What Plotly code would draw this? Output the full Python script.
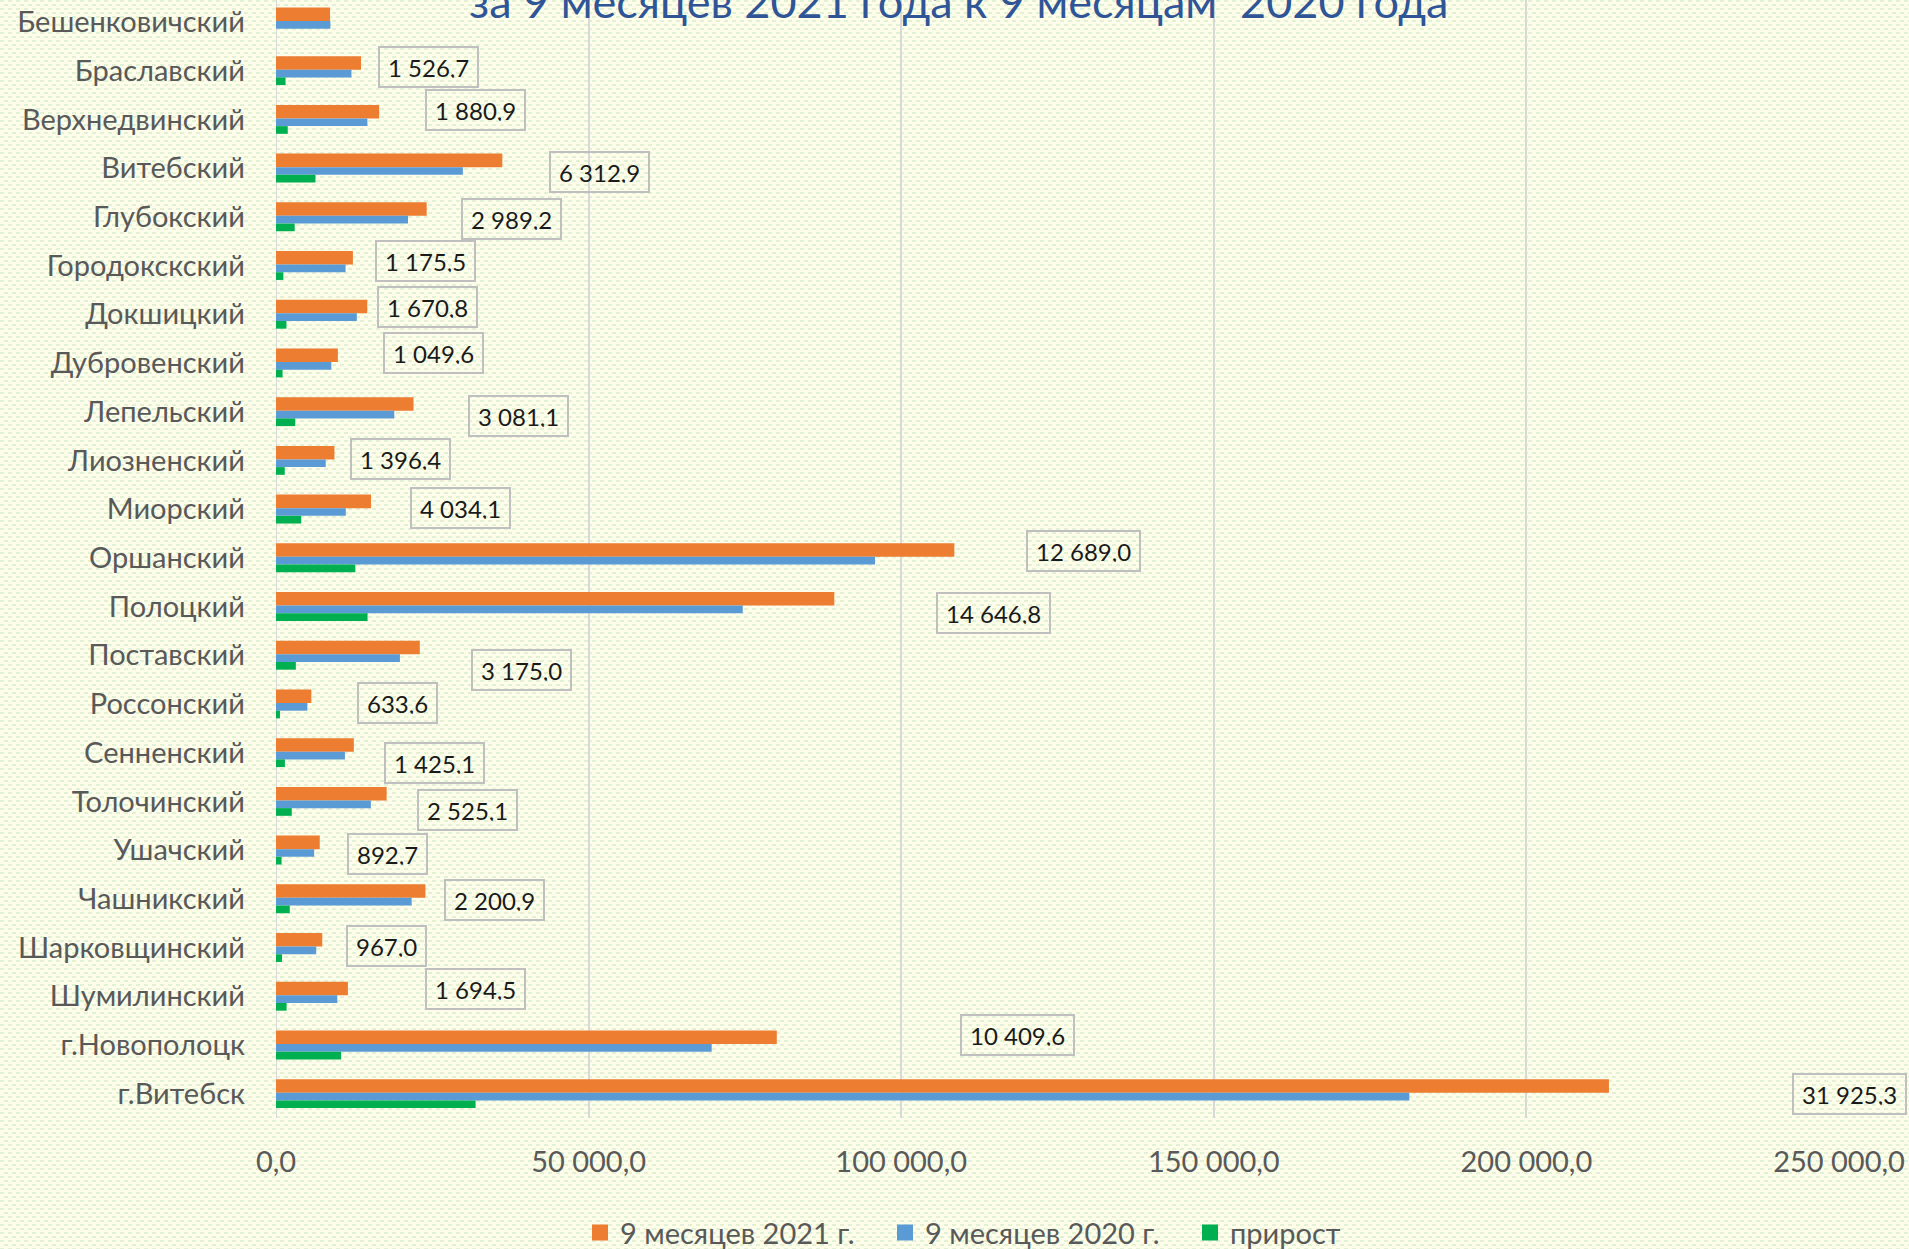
import base64
import struct
import zlib

import plotly.graph_objects as go

# data
districts = ["Бешенковичский", "Браславский", "Верхнедвинский", "Витебский", "Глубокский",
             "Городокскский", "Докшицкий", "Дубровенский", "Лепельский", "Лиозненский",
             "Миорский", "Оршанский", "Полоцкий", "Поставский", "Россонский", "Сенненский",
             "Толочинский", "Ушачский", "Чашникский", "Шарковщинский", "Шумилинский",
             "г.Новополоцк", "г.Витебск"]
y2021 = [8650, 13600, 16500, 36200, 24100, 12300, 14600, 9900, 22000, 9350, 15200, 108500,
         89300, 23000, 5650, 12450, 17700, 7000, 23900, 7400, 11500, 80100, 213200]
y2020 = [8700, 12073, 14619, 29887, 21111, 11124, 12929, 8850, 18919, 7954, 11166, 95811,
         74653, 19825, 5016, 11025, 15175, 6107, 21699, 6433, 9805, 69690, 181275]
growth = [-50, 1526.7, 1880.9, 6312.9, 2989.2, 1175.5, 1670.8, 1049.6, 3081.1, 1396.4, 4034.1,
          12689.0, 14646.8, 3175.0, 633.6, 1425.1, 2525.1, 892.7, 2200.9, 967.0, 1694.5,
          10409.6, 31925.3]
x_ticks = [0, 50000, 100000, 150000, 200000, 250000]
x_tick_labels = ["0,0", "50 000,0", "100 000,0", "150 000,0", "200 000,0", "250 000,0"]

# where the boxed labels sit, relative to the end of the orange bar (px)
label_dx = [None, 17, 46, 47, 34, 22, 10, 45, 54, 16, 39, 72, 102, 51, 46, 30, 30, 27, 19, 24,
            77, 183, 183]
label_dy = [0, 4, 9, -4, -2, 4, 7, 10, -4, 1, 1, 7, -6, -15, 1, -10, -9, -4, -1, 2, 7, 10, 0]

W, H = 1909, 1249
ML, MR, MT, MB = 276, 70, 0, 131
FONT = "Lato, 'Noto Sans', sans-serif"
GREY = "#595959"


def pattern_png(w, h):
    # cream background with small light-green dashes, like the Excel fill
    base = bytes((254, 253, 234))
    dash = bytes((226, 240, 214))
    plain = b"\x00" + base * w
    rows_a = b"\x00" + b"".join(dash if x % 8 < 4 else base for x in range(w))
    rows_b = b"\x00" + b"".join(dash if (x + 4) % 8 < 4 else base for x in range(w))
    raw = []
    for y in range(h):
        k = y % 8
        if k in (0, 1):
            raw.append(rows_a)
        elif k in (4, 5):
            raw.append(rows_b)
        else:
            raw.append(plain)
    data = zlib.compress(b"".join(raw), 9)

    def chunk(tag, payload):
        c = struct.pack(">I", len(payload)) + tag + payload
        return c + struct.pack(">I", zlib.crc32(tag + payload) & 0xFFFFFFFF)

    png = b"\x89PNG\r\n\x1a\n"
    png += chunk(b"IHDR", struct.pack(">IIBBBBB", w, h, 8, 2, 0, 0, 0))
    png += chunk(b"IDAT", data)
    png += chunk(b"IEND", b"")
    return "data:image/png;base64," + base64.b64encode(png).decode()


def fmt(v):
    s = f"{v:,.1f}"
    return s.replace(",", " ").replace(".", ",")


fig = go.Figure()
series = [
    ("9 месяцев 2021 г.", y2021, "#ED7D31", -0.297, 0.278),
    ("9 месяцев 2020 г.", y2020, "#5B9BD5", -0.019, 0.158),
    ("прирост", growth, "#00B050", 0.139, 0.158),
]
for name, vals, color, off, wd in series:
    fig.add_trace(go.Bar(y=districts, x=vals, orientation="h", name=name,
                         marker=dict(color=color, line_width=0),
                         offset=off, width=wd, showlegend=False))
# legend entries with bigger square keys, as in the original
for name, vals, color, off, wd in series:
    fig.add_trace(go.Scatter(x=[None], y=[None], mode="markers", name=name,
                             marker=dict(symbol="square", size=18, color=color)))

pw = W - ML - MR
ph = H - MT - MB
fig.add_layout_image(dict(source=pattern_png(W, H), xref="paper", yref="paper",
                          x=-ML / pw, y=1 + MT / ph, sizex=W / pw, sizey=H / ph,
                          xanchor="left", yanchor="top", sizing="stretch", layer="below"))

for i, d in enumerate(districts):
    if label_dx[i] is None:
        continue
    fig.add_annotation(x=y2021[i], y=d, text=fmt(growth[i]), showarrow=False,
                       xanchor="left", yanchor="middle", xshift=label_dx[i], yshift=label_dy[i],
                       font=dict(family=FONT, size=24, color="#1a1a1a"),
                       bordercolor="#BFBFBF", borderwidth=2, borderpad=8, height=22)

# title is partly cut off by the top edge in the original
fig.add_annotation(text="за 9 месяцев 2021 года к 9 месяцам  2020 года",
                   xref="paper", yref="paper", x=(W / 2 + 4 - ML) / pw, y=1,
                   xanchor="center", yanchor="middle", yshift=-1, showarrow=False,
                   font=dict(family=FONT, size=45, color="#2F5597"))

fig.update_layout(
    width=W, height=H,
    margin=dict(l=ML, r=MR, t=MT, b=MB),
    paper_bgcolor="#F6F9E4",
    plot_bgcolor="rgba(0,0,0,0)",
    font=dict(family=FONT, color=GREY),
    barmode="overlay",
    showlegend=True,
    legend=dict(orientation="h", xref="container", yref="container", x=580 / W, y=0.013,
                xanchor="left", yanchor="middle", font=dict(size=29, color=GREY),
                entrywidth=260, entrywidthmode="pixels", itemwidth=30,
                bgcolor="rgba(0,0,0,0)"),
    xaxis=dict(range=[0, 250000], tickmode="array", tickvals=x_ticks, ticktext=x_tick_labels,
               showgrid=True, gridcolor="#D9D9D9", gridwidth=2, zeroline=False,
               showline=False, tickfont=dict(size=29, color=GREY), ticklabelstandoff=24),
    yaxis=dict(type="category", categoryorder="array", categoryarray=districts,
               range=[22.5, -0.45], showgrid=False, zeroline=False, showline=False,
               tickfont=dict(size=29, color=GREY), ticklabelstandoff=30),
)
fig.add_vline(x=0, line_color="#D9D9D9", line_width=2, layer="below")

fig.write_html("out.html", config={"displayModeBar": False},
               post_script="document.body.style.margin='0';document.body.style.overflow='hidden';")
